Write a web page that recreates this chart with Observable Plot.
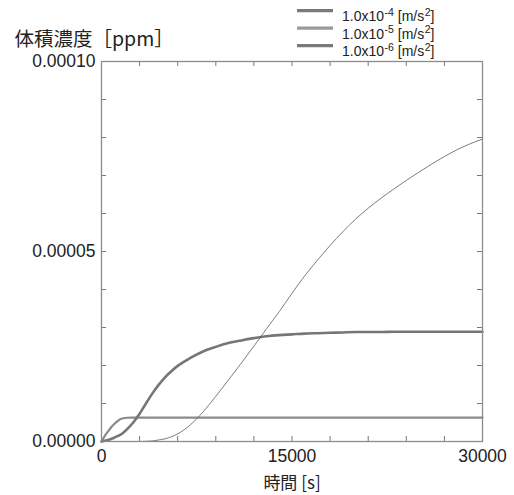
<!DOCTYPE html>
<html><head><meta charset="utf-8">
<script src="https://cdn.jsdelivr.net/npm/d3@7"></script>
<script src="https://cdn.jsdelivr.net/npm/@observablehq/plot@0.6"></script>
<style>body{margin:0;background:#fff}svg{display:block}</style>
</head><body><div id="chart"></div>
<script>
// time [s]
const time = [0,250,500,750,1000,1250,1500,2000,2500,3000,3500,4000,4500,5000,5500,6000,7000,8000,9000,10000,11000,12000,13000,14000,15000,16000,17000,18000,19000,20000,21000,22000,23000,24000,25000,26000,27000,28000,29000,30000];
// concentrations in units of 1e-6 ppm
const concA = [0,1.4,2.6,3.7,4.6,5.3,5.9,6.25,6.3,6.3,6.3,6.3,6.3,6.3,6.3,6.3,6.3,6.3,6.3,6.3,6.3,6.3,6.3,6.3,6.3,6.3,6.3,6.3,6.3,6.3,6.3,6.3,6.3,6.3,6.3,6.3,6.3,6.3,6.3,6.3]; // 1.0x10^-4
const concB = [0,0.2,0.4,0.65,1.0,1.4,1.8,3.2,5.0,7.3,10.0,12.6,14.9,16.9,18.5,19.9,22.0,23.7,24.9,25.9,26.6,27.2,27.7,28.0,28.2,28.4,28.5,28.6,28.7,28.8,28.8,28.8,28.9,28.9,28.9,28.9,28.9,28.9,28.9,28.9]; // 1.0x10^-5
const concC = [0,0,0,0,0,0,0,0,0,0,0.05,0.15,0.4,0.7,1.25,2.0,4.4,7.8,11.9,16.2,20.6,25.1,29.7,34.2,39.0,43.6,47.7,51.6,55.2,58.5,61.4,64.0,66.4,68.7,70.9,73.0,75.0,76.8,78.3,79.6]; // 1.0x10^-6

const seriesKeys = ["A","B","C"];
const legendExp = ["-4","-5","-6"];
const legendColors = ["#7a7a7a","#9a9a9a","#7a7a7a"];
const lineColors = {A:"#8a8a8a", B:"#767676", C:"#5a5a5a"};
const lineWidths = {A:2.2, B:2.6, C:0.8};

const xMinorTicks = [3000,6000,9000,12000,15000,18000,21000,24000,27000];
const yMinorTicks = [1e-5,2e-5,3e-5,4e-5,5e-5,6e-5,7e-5,8e-5,9e-5];
const xLabelTicks = [0,15000,30000];
const yLabelTicks = [0,0.00005,0.0001];

const concs = {A:concA, B:concB, C:concC};
const rows = [];
for (const k of seriesKeys) time.forEach((t,i) => rows.push({t, v: concs[k][i]*1e-6, s:k}));

const W = 514, H = 495, mL = 101, mR = 32, mT = 61, mB = 54;
const fh = H - mT - mB, fw = W - mL - mR;
const tickLen = 5;
const font = "'Liberation Sans', Arial, sans-serif";

const chart = Plot.plot({
  width: W, height: H,
  marginLeft: mL, marginRight: mR, marginTop: mT, marginBottom: mB,
  style: {fontFamily: font, background: "#fff", color: "#222"},
  x: {domain: [0,30000], label: null},
  y: {domain: [0,0.0001], label: null},
  marks: [
    Plot.axisX(xLabelTicks, {tickSize: 0, tickPadding: 8, fontSize: 17.5, fill: "#222", tickFormat: d => String(d)}),
    Plot.axisY(yLabelTicks, {tickSize: 0, tickPadding: 6, fontSize: 17.5, fill: "#222", tickFormat: d => d.toFixed(5)}),
    Plot.tickX(xMinorTicks, {x: d => d, insetTop: fh - tickLen, stroke: "#777", strokeWidth: 1}),
    Plot.tickX(xMinorTicks, {x: d => d, insetBottom: fh - tickLen, stroke: "#777", strokeWidth: 1}),
    Plot.tickY(yMinorTicks, {y: d => d, insetRight: fw - tickLen, stroke: "#777", strokeWidth: 1}),
    Plot.tickY(yMinorTicks, {y: d => d, insetLeft: fw - tickLen, stroke: "#777", strokeWidth: 1}),
    ...seriesKeys.map(k => Plot.line(rows.filter(r => r.s === k), {x: "t", y: "v", stroke: lineColors[k], strokeWidth: lineWidths[k], curve: "monotone-x"})),
    Plot.frame({stroke: "#8c8c8c", strokeWidth: 1.3}),
    Plot.text(["体積濃度［ppm］"], {frameAnchor: "top-left", dx: -87, dy: -29, textAnchor: "start", fontSize: 19.5, fill: "#222", fontFamily: "'Noto Sans CJK JP', sans-serif"}),
    Plot.text(["時間 [s]"], {frameAnchor: "bottom", dy: 47, fontSize: 17, fill: "#222", fontFamily: "'Noto Sans CJK JP', sans-serif"})
  ]
});
document.getElementById("chart").appendChild(chart);

// legend
const svg = d3.select(chart);
const lg = svg.append("g").style("font-family", font).style("font-size", "14px").attr("fill", "#222").attr("text-anchor", "start");
seriesKeys.forEach((k,i) => {
  const y = 10.7 + i*17.5;
  lg.append("line").attr("x1", 297).attr("x2", 333).attr("y1", y).attr("y2", y)
    .attr("stroke", legendColors[i]).attr("stroke-width", 3.2);
  const t = lg.append("text").attr("x", 342).attr("y", y + 10.5).attr("text-anchor", "start");
  t.append("tspan").text("1.0x10");
  t.append("tspan").style("font-size", "10.5px").attr("dy", -5.5).attr("dx", 0.5).text(legendExp[i]);
  t.append("tspan").attr("dy", 5.5).text(" [m/s");
  t.append("tspan").style("font-size", "10.5px").attr("dy", -5.5).attr("dx", 0.5).text("2");
  t.append("tspan").attr("dy", 5.5).text("]");
});
</script></body></html>
